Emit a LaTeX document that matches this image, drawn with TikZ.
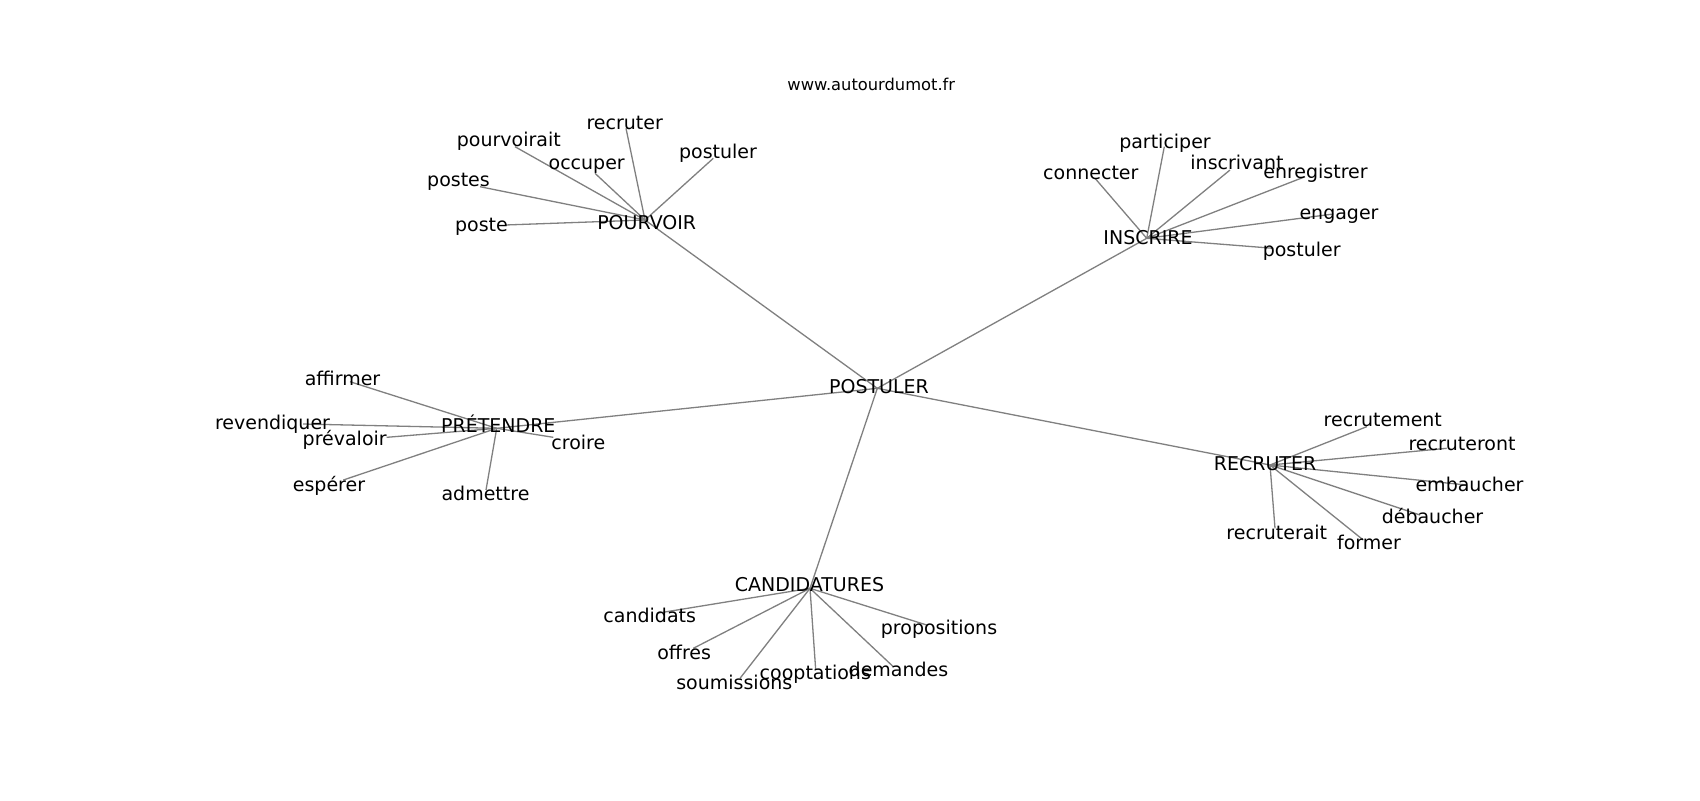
\documentclass[tikz,border=0pt]{standalone}
\usepackage{fontspec}
\setmainfont{DejaVu Sans}
\begin{document}
\begin{tikzpicture}[x=0.5pt,y=-0.5pt,
  lbl/.style={inner sep=0pt,outer sep=0pt,text height=0.73em,text depth=0pt,anchor=center,font=\fontsize{9.5pt}{11pt}\selectfont},
  ttl/.style={inner sep=0pt,outer sep=0pt,text height=0.73em,text depth=0pt,anchor=center,font=\fontsize{8.15pt}{10pt}\selectfont},
  edge/.style={draw=black!50,line width=0.65pt}]
\useasboundingbox[fill=white] (0,0) rectangle (1700,800);
\node[ttl] (title) at (871.3,82.7) {www.autourdumot.fr};
% hubs
\coordinate (hPOS) at (877.3,388.3);
\coordinate (hPOU) at (645,220);
\coordinate (hINS) at (1146.7,238.3);
\coordinate (hPRE) at (496.7,428.3);
\coordinate (hREC) at (1270,465);
\coordinate (hCAN) at (810,588.3);
% leaf points
\coordinate (poste) at (505,225);
\coordinate (postes) at (480,186.7);
\coordinate (pourvoirait) at (515,146.7);
\coordinate (occuper) at (595,173.3);
\coordinate (recruter) at (626,128.3);
\coordinate (postulerA) at (713.3,158.3);
\coordinate (connecter) at (1095,178.3);
\coordinate (participer) at (1164.3,146.7);
\coordinate (inscrivant) at (1230,170);
\coordinate (enregistrer) at (1305,176.7);
\coordinate (engager) at (1333.3,214);
\coordinate (postulerB) at (1273.3,248.3);
\coordinate (affirmer) at (350,381.7);
\coordinate (revendiquer) at (303,424);
\coordinate (prevaloir) at (386.7,437.3);
\coordinate (esperer) at (343.3,480);
\coordinate (admettre) at (486,490);
\coordinate (croire) at (553.3,437.3);
\coordinate (recrutement) at (1366.7,426.7);
\coordinate (recruteront) at (1446.7,448.3);
\coordinate (embaucher) at (1466.7,485);
\coordinate (debaucher) at (1420,515);
\coordinate (former) at (1363.3,540);
\coordinate (recruterait) at (1275,528.3);
\coordinate (candidats) at (656.7,613.3);
\coordinate (offres) at (693.3,648.3);
\coordinate (soumissions) at (740,678.3);
\coordinate (cooptations) at (815.7,670);
\coordinate (demandes) at (893.3,666.7);
\coordinate (propositions) at (926.7,625);
% edges
\foreach \h in {hPOU,hINS,hPRE,hREC,hCAN} \draw[edge] (hPOS) -- (\h);
\foreach \l in {poste,postes,pourvoirait,occuper,recruter,postulerA} \draw[edge] (hPOU) -- (\l);
\foreach \l in {connecter,participer,inscrivant,enregistrer,engager,postulerB} \draw[edge] (hINS) -- (\l);
\foreach \l in {affirmer,revendiquer,prevaloir,esperer,admettre,croire} \draw[edge] (hPRE) -- (\l);
\foreach \l in {recrutement,recruteront,embaucher,debaucher,former,recruterait} \draw[edge] (hREC) -- (\l);
\foreach \l in {candidats,offres,soumissions,cooptations,demandes,propositions} \draw[edge] (hCAN) -- (\l);
% labels
\node[lbl] (tPOS) at (879,386) {POSTULER};
\node[lbl] (tPOU) at (646.7,222.3) {POURVOIR};
\node[lbl] (tINS) at (1148,236.7) {INSCRIRE};
\node[lbl] (tPRE) at (498.3,425) {PRÉTENDRE};
\node[lbl] (tREC) at (1265,463.3) {RECRUTER};
\node[lbl] (tCAN) at (809.5,584) {CANDIDATURES};
\node[lbl] (tposte) at (481.5,224) {poste};
\node[lbl] (tpostes) at (458.5,179) {postes};
\node[lbl] (tpourvoirait) at (508.8,139) {pourvoirait};
\node[lbl] (toccuper) at (586.7,162.3) {occuper};
\node[lbl] (trecruter) at (624.7,122.3) {recruter};
\node[lbl] (tpostulerA) at (718,150.8) {postuler};
\node[lbl] (tconnecter) at (1090.8,171.7) {connecter};
\node[lbl] (tparticiper) at (1165,140.7) {participer};
\node[lbl] (tinscrivant) at (1237,162.3) {inscrivant};
\node[lbl] (tenregistrer) at (1315.5,170.7) {enregistrer};
\node[lbl] (tengager) at (1339,211.7) {engager};
\node[lbl] (tpostulerB) at (1301.7,249) {postuler};
\node[lbl] (taffirmer) at (342.5,378.3) {affirmer};
\node[lbl] (trevendiquer) at (272.5,421.7) {revendiquer};
\node[lbl] (tprevaloir) at (344.7,438.3) {prévaloir};
\node[lbl] (tesperer) at (329,484) {espérer};
\node[lbl] (tadmettre) at (485.5,493) {admettre};
\node[lbl] (tcroire) at (578.3,441.7) {croire};
\node[lbl] (trecrutement) at (1382.8,419) {recrutement};
\node[lbl] (trecruteront) at (1462,443) {recruteront};
\node[lbl] (tembaucher) at (1469.5,484) {embaucher};
\node[lbl] (tdebaucher) at (1432.5,516.3) {débaucher};
\node[lbl] (tformer) at (1369,542.3) {former};
\node[lbl] (trecruterait) at (1276.8,532.3) {recruterait};
\node[lbl] (tcandidats) at (649.7,615) {candidats};
\node[lbl] (toffres) at (684.2,652.3) {offres};
\node[lbl] (tsoumissions) at (734.3,682.3) {soumissions};
\node[lbl] (tcooptations) at (815.3,672.3) {cooptations};
\node[lbl] (tdemandes) at (898.5,669) {demandes};
\node[lbl] (tpropositions) at (939,627.3) {propositions};
\end{tikzpicture}
\end{document}
